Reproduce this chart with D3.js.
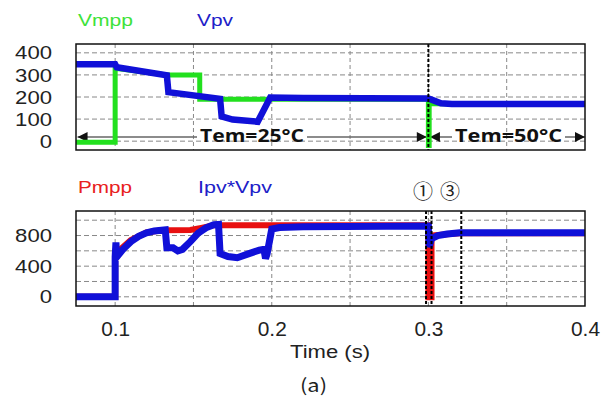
<!DOCTYPE html>
<html>
<head>
<meta charset="utf-8">
<script src="https://cdn.jsdelivr.net/npm/d3@7"></script>
<style>
  body { margin: 0; background: #fff; }
  svg text { font-family: "Liberation Sans", Arial, sans-serif; }
</style>
</head>
<body>
<svg id="chart" width="601" height="403"></svg>
<script>
// Data: [time (s), value]
var vmpp = [[0.075, -5], [0.1, -5], [0.1, 330], [0.133, 300], [0.154, 300], [0.154, 190], [0.2, 190],
  [0.3, 190], [0.3, -20], [0.3005, -20], [0.3005, 170], [0.4, 170]];
var vpv = [[0.075, 348], [0.1, 348], [0.101, 335], [0.133, 298], [0.134, 222], [0.167, 192], [0.168, 112],
  [0.175, 98], [0.191, 88], [0.199, 198], [0.22, 195], [0.3, 193], [0.302, 188], [0.308, 172], [0.315, 168], [0.4, 168]];
var pmpp = [[0.075, 0], [0.1, 0], [0.1, 560], [0.105, 650], [0.11, 740], [0.12, 840], [0.13, 868], [0.148, 872],
  [0.155, 900], [0.163, 935], [0.2, 935], [0.3, 935], [0.3, -5], [0.302, -5], [0.302, 800], [0.32, 830], [0.4, 830]];
var ipvVpv = [[0.075, 0], [0.1, 0], [0.1, 520], [0.1005, 710], [0.101, 520], [0.105, 620], [0.11, 720], [0.115, 790],
  [0.12, 835], [0.125, 860], [0.132, 875], [0.133, 640], [0.137, 640], [0.14, 600], [0.143, 620], [0.148, 720],
  [0.153, 830], [0.158, 900], [0.163, 940], [0.166, 945], [0.167, 565], [0.172, 525], [0.178, 510], [0.185, 560],
  [0.192, 610], [0.195, 620], [0.196, 500], [0.197, 560], [0.2, 885], [0.205, 905], [0.22, 915], [0.3, 925],
  [0.3005, 650], [0.302, 760], [0.306, 800], [0.312, 820], [0.32, 835], [0.4, 835]];

var xTicks = [0.1, 0.2, 0.3, 0.4];
var xGrid = [0.1, 0.15, 0.2, 0.25, 0.3, 0.35];
var topTicks = [0, 100, 200, 300, 400];
var bottomTicks = [0, 400, 800];
var bottomGrid = [0, 200, 400, 600, 800, 1000];
var markerLines = [0.2985, 0.302, 0.321];

// Layout
var left = 76, right = 585;
var top1 = 44, bottom1 = 150;
var top2 = 211, bottom2 = 306;

var svg = d3.select('#chart');

// Scales
var xScale = d3.scaleLinear().domain([0.075, 0.4]).range([left, right]);
var yTop = d3.scaleLinear().domain([-40, 440]).range([bottom1, top1]);
var yBottom = d3.scaleLinear().domain([-120, 1120]).range([bottom2, top2]);

function drawPanel(yScale, yTicks, yGrid, y0, y1) {
  var g = svg.append('g');

  // Dashed grid
  g.selectAll('.vgrid').data(xGrid).enter().append('line')
    .attr('x1', function(d) { return xScale(d); })
    .attr('x2', function(d) { return xScale(d); })
    .attr('y1', y0).attr('y2', y1)
    .attr('stroke', '#888').attr('stroke-dasharray', '4,3').attr('stroke-width', 1);
  g.selectAll('.hgrid').data(yGrid).enter().append('line')
    .attr('x1', left).attr('x2', right)
    .attr('y1', function(d) { return yScale(d); })
    .attr('y2', function(d) { return yScale(d); })
    .attr('stroke', '#888').attr('stroke-dasharray', '5,3').attr('stroke-width', 1);

  // Y axis labels (the picture's text is stretched sideways)
  var yAxis = d3.axisLeft(yScale).tickValues(yTicks).tickSize(0).tickPadding(24);
  var ax = g.append('g').attr('transform', 'translate(' + left + ',0)').call(yAxis);
  ax.select('.domain').remove();
  ax.selectAll('text').attr('font-size', 19).attr('fill', '#222')
    .attr('textLength', function(d) { return String(d).length * 12.3; })
    .attr('lengthAdjust', 'spacingAndGlyphs')
    .style('font-family', '"Liberation Sans", Arial, sans-serif');
  return g;
}

var lineTop = d3.line().x(function(d) { return xScale(d[0]); }).y(function(d) { return yTop(d[1]); });
var lineBottom = d3.line().x(function(d) { return xScale(d[0]); }).y(function(d) { return yBottom(d[1]); });

// Top panel
var g1 = drawPanel(yTop, topTicks, topTicks, top1, bottom1);

// Temperature arrows
var arrowY = 137;
svg.append('defs').append('marker')
  .attr('id', 'arr').attr('viewBox', '0 0 10 10').attr('refX', 10).attr('refY', 5)
  .attr('markerWidth', 15).attr('markerHeight', 10).attr('markerUnits', 'userSpaceOnUse')
  .attr('orient', 'auto-start-reverse')
  .append('path').attr('d', 'M0,0L10,5L0,10Z').attr('fill', '#111');

function tempArrow(x0, x1, label, px0, px1) {
  g1.append('line').attr('x1', xScale(x0)).attr('x2', px0 - 3).attr('y1', arrowY).attr('y2', arrowY)
    .attr('stroke', '#666').attr('stroke-width', 1.5).attr('marker-start', 'url(#arr)');
  g1.append('line').attr('x1', px1 + 3).attr('x2', xScale(x1)).attr('y1', arrowY).attr('y2', arrowY)
    .attr('stroke', '#666').attr('stroke-width', 1.5).attr('marker-end', 'url(#arr)');
  g1.append('text').attr('x', px0).attr('y', 142)
    .attr('textLength', px1 - px0).attr('lengthAdjust', 'spacingAndGlyphs')
    .attr('font-size', 17).attr('font-weight', 'bold').attr('fill', '#111')
    .style('font-family', '"Open Sans", "DejaVu Sans", sans-serif')
    .text(label);
}
tempArrow(0.076, 0.299, 'Tem=25°C', 200, 304);
tempArrow(0.301, 0.4, 'Tem=50°C', 455, 562);

g1.append('path').datum(vmpp).attr('d', lineTop).attr('fill', 'none')
  .attr('stroke', '#22e01e').attr('stroke-width', 5);
g1.append('path').datum(vpv).attr('d', lineTop).attr('fill', 'none')
  .attr('stroke', '#1010d8').attr('stroke-width', 6.5);

// Temperature change marker
g1.append('line').attr('x1', xScale(0.3)).attr('x2', xScale(0.3)).attr('y1', top1).attr('y2', bottom1)
  .attr('stroke', '#000').attr('stroke-width', 2).attr('stroke-dasharray', '3,2');

g1.append('rect').attr('x', left).attr('y', top1).attr('width', right - left).attr('height', bottom1 - top1)
  .attr('fill', 'none').attr('stroke', '#111').attr('stroke-width', 1.5);

// Bottom panel
var g2 = drawPanel(yBottom, bottomTicks, bottomGrid, top2, bottom2);

g2.append('path').datum(pmpp).attr('d', lineBottom).attr('fill', 'none')
  .attr('stroke', '#e81010').attr('stroke-width', 6);
g2.append('path').datum(ipvVpv).attr('d', lineBottom).attr('fill', 'none')
  .attr('stroke', '#1010d8').attr('stroke-width', 7);

g2.selectAll('.marker').data(markerLines).enter().append('line')
  .attr('x1', function(d) { return xScale(d); })
  .attr('x2', function(d) { return xScale(d); })
  .attr('y1', top2).attr('y2', bottom2)
  .attr('stroke', '#000').attr('stroke-width', 2).attr('stroke-dasharray', '3,2');

g2.append('rect').attr('x', left).attr('y', top2).attr('width', right - left).attr('height', bottom2 - top2)
  .attr('fill', 'none').attr('stroke', '#111').attr('stroke-width', 1.5);

// X axis labels
var xAxis = d3.axisBottom(xScale).tickValues(xTicks).tickSize(0).tickPadding(16).tickFormat(d3.format('.1f'));
var xa = svg.append('g').attr('transform', 'translate(0,' + bottom2 + ')').call(xAxis);
xa.select('.domain').remove();
xa.selectAll('text').attr('font-size', 20).attr('fill', '#222')
  .attr('textLength', 29).attr('lengthAdjust', 'spacingAndGlyphs')
  .style('font-family', '"Liberation Sans", Arial, sans-serif');

svg.append('text').attr('x', 290).attr('y', 358)
  .attr('textLength', 80).attr('lengthAdjust', 'spacingAndGlyphs')
  .attr('font-size', 18).attr('fill', '#222').text('Time (s)');
svg.append('text').attr('x', 300).attr('y', 392)
  .attr('textLength', 27).attr('lengthAdjust', 'spacingAndGlyphs')
  .attr('font-size', 18).attr('fill', '#222')
  .style('font-family', '"Noto Sans CJK KR", sans-serif').text('(a)');

// Legends
var legends = [
  {text: 'Vmpp', color: '#3ee23a', x: 78, y: 26, w: 55},
  {text: 'Vpv', color: '#2020c8', x: 197, y: 26, w: 36},
  {text: 'Pmpp', color: '#e82020', x: 78, y: 193, w: 54},
  {text: 'Ipv*Vpv', color: '#2020c8', x: 198, y: 193, w: 74}
];
svg.selectAll('.legend').data(legends).enter().append('text')
  .attr('x', function(d) { return d.x; })
  .attr('y', function(d) { return d.y; })
  .attr('textLength', function(d) { return d.w; })
  .attr('lengthAdjust', 'spacingAndGlyphs')
  .attr('font-size', 17).attr('fill', function(d) { return d.color; })
  .text(function(d) { return d.text; });

// Circled labels
svg.append('text').attr('x', 423).attr('y', 199).attr('text-anchor', 'middle').attr('font-size', 20)
  .attr('fill', '#222').style('font-family', '"Noto Sans CJK KR", sans-serif').text('①');
svg.append('text').attr('x', 450).attr('y', 199).attr('text-anchor', 'middle').attr('font-size', 20)
  .attr('fill', '#222').style('font-family', '"Noto Sans CJK KR", sans-serif').text('③');
</script>
</body>
</html>
